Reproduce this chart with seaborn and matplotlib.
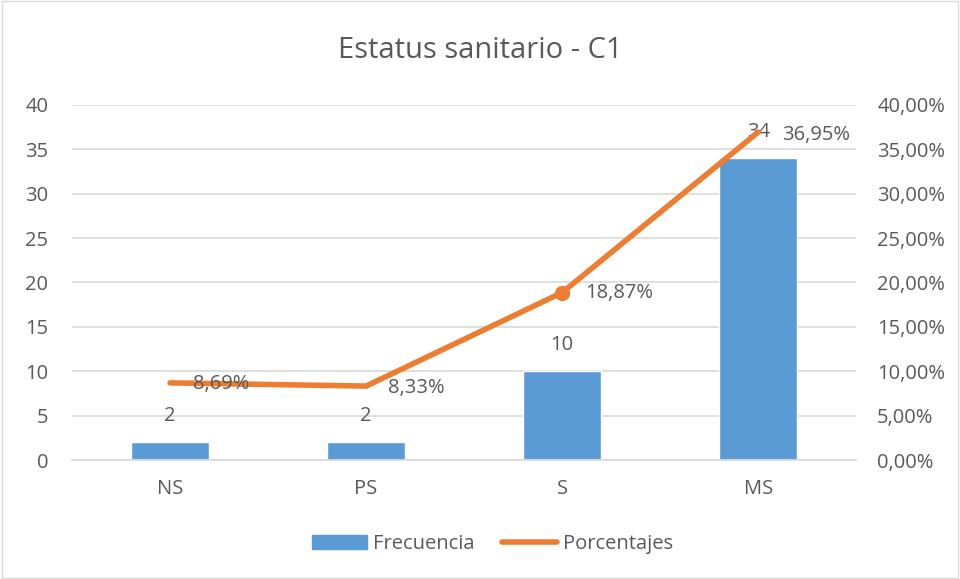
import matplotlib
matplotlib.use("Agg")
import matplotlib.pyplot as plt
import seaborn as sns
import pandas as pd
from matplotlib.ticker import FuncFormatter
from matplotlib.lines import Line2D
from matplotlib.patches import Patch, Rectangle

categories = ["NS", "PS", "S", "MS"]
frecuencia = [2, 2, 10, 34]
porcentajes = [8.69, 8.33, 18.87, 36.95]
pct_labels = ["8,69%", "8,33%", "18,87%", "36,95%"]

sns.set_theme(style="white")
plt.rcParams['font.family'] = ['Open Sans', 'DejaVu Sans']

BLUE = "#5B9BD5"
ORANGE = "#ED7D31"
TXT = "#595959"
GRID = "#D9D9D9"
FS = 14.5

df = pd.DataFrame({"cat": categories, "freq": frecuencia, "pct": porcentajes})

fig = plt.figure(figsize=(9.6, 5.79), dpi=100)
fig.patches.append(Rectangle((0.002, 0.002), 0.996, 0.996, transform=fig.transFigure,
                             fill=False, edgecolor="#D9D9D9", linewidth=1))
ax = fig.add_axes([0.075, 0.2055, 0.817, 0.6132])
sns.barplot(data=df, x="cat", y="freq", color=BLUE, width=0.4, ax=ax, saturation=1)
ax.set_xlim(-0.5, 3.5)
ax.set_ylim(0, 40)
ax.set_yticks(range(0, 41, 5))
ax.yaxis.grid(True, color=GRID, linewidth=1.2)
ax.set_axisbelow(True)
for s in ax.spines.values():
    s.set_visible(False)
ax.spines["bottom"].set_visible(True)
ax.spines["bottom"].set_color(GRID)
ax.set_xlabel("")
ax.set_ylabel("")
ax.tick_params(axis="both", colors=TXT, labelsize=FS, length=0)
ax.tick_params(axis="y", pad=17)
ax.tick_params(axis="x", pad=14)

for i, v in enumerate(frecuencia):
    ax.text(i, v + 3.0, str(v), ha="center", va="center", color=TXT, fontsize=FS)

ax2 = ax.twinx()
sns.lineplot(x=list(range(len(categories))), y=porcentajes, color=ORANGE, linewidth=4,
             ax=ax2, solid_capstyle="round")
ax2.plot([2], [porcentajes[2]], marker="o", color=ORANGE, markersize=10)
ax2.set_ylim(0, 40)
ax2.set_yticks(range(0, 41, 5))
ax2.yaxis.set_major_formatter(FuncFormatter(lambda v, p: f"{v:.2f}%".replace(".", ",")))
ax2.tick_params(axis="y", colors=TXT, labelsize=FS, length=0, pad=15)
for s in ax2.spines.values():
    s.set_visible(False)
ax2.grid(False)
ax2.set_xlim(-0.5, 3.5)

offsets = [(0.115, -0.1), (0.11, -0.2), (0.118, 0.0), (0.12, -0.3)]
for i, (v, lab) in enumerate(zip(porcentajes, pct_labels)):
    dx, dy = offsets[i]
    ax2.text(i + dx, v + dy, lab, ha="left", va="center", color=TXT, fontsize=FS)

fig.text(0.5, 0.912, "Estatus sanitario - C1", ha="center", va="center", color=TXT, fontsize=21)

handles = [Patch(facecolor=BLUE, edgecolor=BLUE),
           Line2D([0], [0], color=ORANGE, linewidth=4, solid_capstyle="round")]
fig.legend(handles, ["Frecuencia", "Porcentajes"], loc="center", bbox_to_anchor=(0.513, 0.06),
           ncol=2, frameon=False, fontsize=FS, labelcolor=TXT, handlelength=2.7,
           handletextpad=0.3, columnspacing=1.4)

fig.savefig("out.png", dpi=100)
